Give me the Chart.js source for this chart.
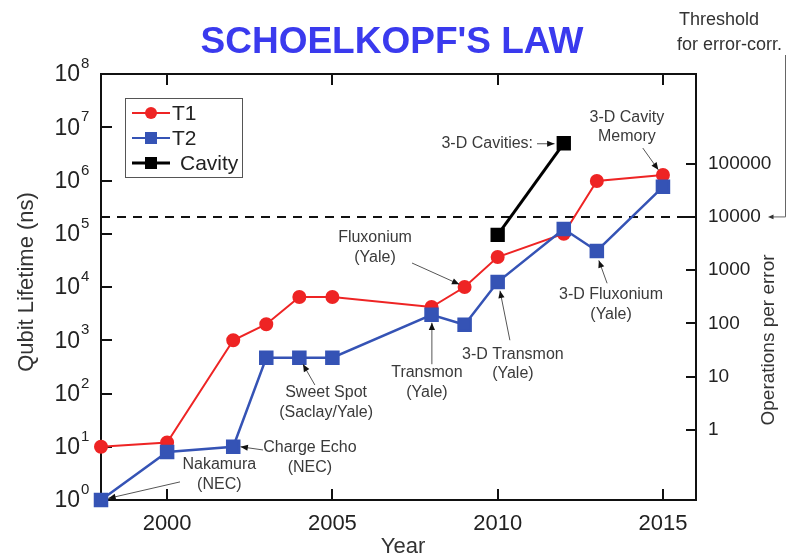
<!DOCTYPE html>
<html>
<head>
<meta charset="utf-8">
<script src="https://cdn.jsdelivr.net/npm/chart.js@4.4.0/dist/chart.umd.min.js"></script>
<style>
  html, body { margin: 0; padding: 0; background: #fff; }
</style>
</head>
<body>
<canvas id="mycanvas" width="787" height="558"></canvas>
<script>
// --- data ---
var years = [1998, 2000, 2002, 2003, 2004, 2005, 2008, 2009, 2010, 2012, 2013, 2015];
var t1_ns = [10, 12, 1000, 2000, 6500, 6500, 4200, 10000, 36500, 100000, 980000, 1270000];
var t2_ns = [1, 8, 10, 470, 470, 470, 3000, 1950, 12400, 123000, 47500, 760000];
var cavity_years = [2010, 2012];
var cavity_ns = [95000, 5000000];
var threshold_ops = 10000;           // on the right axis
var x_ticks = [2000, 2005, 2010, 2015];
var left_exps = [0, 1, 2, 3, 4, 5, 6, 7, 8];
var right_ticks = [1, 10, 100, 1000, 10000, 100000];

// annotations: text centre in (year, log10 ns), arrows tail -> head
var notes = [
  { lines: ['3-D Cavities:'], x: 2011.07, e: 6.69, align: 'right', arrow: [[2011.19, 6.69], [2011.72, 6.69]] },
  { lines: ['3-D Cavity', 'Memory'], x: 2013.91, e: 7.19, arrow: [[2014.39, 6.61], [2014.86, 6.2]] },
  { lines: ['Fluxonium', '(Yale)'], x: 2006.29, e: 4.92, arrow: [[2007.41, 4.45], [2008.84, 4.05]] },
  { lines: ['Sweet Spot', '(Saclay/Yale)'], x: 2004.81, e: 2.01, arrow: [[2004.47, 2.16], [2004.11, 2.55]] },
  { lines: ['Charge Echo', '(NEC)'], x: 2004.32, e: 0.98, arrow: [[2002.9, 0.94], [2002.22, 1.0]] },
  { lines: ['Nakamura', '(NEC)'], x: 2001.58, e: 0.66, arrow: [[2000.39, 0.34], [1998.22, 0.03]] },
  { lines: ['Transmon', '(Yale)'], x: 2007.86, e: 2.385, arrow: [[2008.01, 2.55], [2008.01, 3.33]] },
  { lines: ['3-D Transmon', '(Yale)'], x: 2010.46, e: 2.74, arrow: [[2010.37, 3.0], [2010.07, 3.93]] },
  { lines: ['3-D Fluxonium', '(Yale)'], x: 2013.43, e: 3.85, arrow: [[2013.31, 4.07], [2013.06, 4.5]] }
];

var RED = '#ee2424';
var BLUE = '#3553b5';
var FONT = '"Liberation Sans", Arial, sans-serif';

function pts(xs, ys) {
  return xs.map(function (x, i) { return { x: x, y: ys[i] }; });
}

function arrowHead(ctx, x0, y0, x1, y1, size) {
  var a = Math.atan2(y1 - y0, x1 - x0);
  ctx.beginPath();
  ctx.moveTo(x1, y1);
  ctx.lineTo(x1 - size * Math.cos(a - 0.4), y1 - size * Math.sin(a - 0.4));
  ctx.lineTo(x1 - size * Math.cos(a + 0.4), y1 - size * Math.sin(a + 0.4));
  ctx.closePath();
  ctx.fill();
}

var decor = {
  id: 'decor',
  beforeDatasetsDraw: function (chart) {
    var ctx = chart.ctx, a = chart.chartArea;
    var xs = chart.scales.x, ys = chart.scales.y, y2 = chart.scales.y2;
    ctx.save();
    ctx.strokeStyle = '#111';
    ctx.lineWidth = 2;
    ctx.strokeRect(a.left, a.top, a.right - a.left, a.bottom - a.top);
    ctx.beginPath();
    x_ticks.forEach(function (v) {
      var p = Math.round(xs.getPixelForValue(v));
      ctx.moveTo(p, a.bottom); ctx.lineTo(p, a.bottom - 11);
      ctx.moveTo(p, a.top); ctx.lineTo(p, a.top + 11);
    });
    left_exps.forEach(function (e) {
      if (e === 0 || e === 8) return;
      var p = Math.round(ys.getPixelForValue(Math.pow(10, e)));
      ctx.moveTo(a.left, p); ctx.lineTo(a.left + 11, p);
    });
    right_ticks.forEach(function (v) {
      var p = Math.round(y2.getPixelForValue(v));
      ctx.moveTo(a.right, p); ctx.lineTo(a.right - 10, p);
    });
    ctx.stroke();
    ctx.restore();
  },
  afterDraw: function (chart) {
    var ctx = chart.ctx;
    var xs = chart.scales.x, ys = chart.scales.y, y2 = chart.scales.y2;
    function X(v) { return xs.getPixelForValue(v); }
    function Y(e) { return ys.getPixelForValue(Math.pow(10, e)); }
    ctx.save();

    // title
    ctx.fillStyle = '#3a3aee';
    ctx.font = 'bold 37px ' + FONT;
    ctx.textAlign = 'center';
    ctx.textBaseline = 'middle';
    ctx.fillText("SCHOELKOPF'S LAW", 392, 43);

    // threshold note
    ctx.fillStyle = '#333';
    ctx.font = '18px ' + FONT;
    ctx.textAlign = 'left';
    ctx.fillText('Threshold', 679, 20);
    ctx.fillText('for error-corr.', 677, 45);
    var ty = y2.getPixelForValue(threshold_ops);
    ctx.strokeStyle = '#666';
    ctx.fillStyle = '#333';
    ctx.lineWidth = 1;
    ctx.beginPath();
    ctx.moveTo(785.5, 55); ctx.lineTo(785.5, ty); ctx.lineTo(772, ty);
    ctx.stroke();
    arrowHead(ctx, 785, ty, 768, ty, 6);

    // left tick labels 10^n
    ctx.fillStyle = '#222';
    left_exps.forEach(function (e) {
      var p = Y(e);
      ctx.font = '23px ' + FONT;
      ctx.textAlign = 'right';
      ctx.textBaseline = 'middle';
      ctx.fillText('10', 80, p + 1);
      ctx.font = '15px ' + FONT;
      ctx.textAlign = 'left';
      ctx.fillText(String(e), 81, p - 10);
    });

    // axis titles
    ctx.font = '22px ' + FONT;
    ctx.textAlign = 'center';
    ctx.textBaseline = 'middle';
    ctx.fillStyle = '#333';
    ctx.fillText('Year', 403, 547);
    ctx.save();
    ctx.translate(27, 282);
    ctx.rotate(-Math.PI / 2);
    ctx.fillText('Qubit Lifetime (ns)', 0, 0);
    ctx.restore();
    ctx.save();
    ctx.font = '19px ' + FONT;
    ctx.translate(769, 340);
    ctx.rotate(-Math.PI / 2);
    ctx.fillText('Operations per error', 0, 0);
    ctx.restore();

    // legend
    ctx.strokeStyle = '#555';
    ctx.lineWidth = 1;
    ctx.strokeRect(125.5, 98.5, 117, 79);
    var rows = [
      { label: 'T1', color: RED, style: 'circle', y: 113, tx: 172 },
      { label: 'T2', color: BLUE, style: 'rect', y: 138, tx: 172 },
      { label: 'Cavity', color: '#000', style: 'rect', y: 163, tx: 180 }
    ];
    rows.forEach(function (r) {
      ctx.strokeStyle = r.color;
      ctx.fillStyle = r.color;
      ctx.lineWidth = r.label === 'Cavity' ? 3 : 2;
      ctx.beginPath();
      ctx.moveTo(132, r.y); ctx.lineTo(170, r.y);
      ctx.stroke();
      if (r.style === 'circle') {
        ctx.beginPath(); ctx.arc(151, r.y, 6, 0, Math.PI * 2); ctx.fill();
      } else {
        ctx.fillRect(145, r.y - 6, 12, 12);
      }
      ctx.fillStyle = '#222';
      ctx.font = '21px ' + FONT;
      ctx.textAlign = 'left';
      ctx.textBaseline = 'middle';
      ctx.fillText(r.label, r.tx, r.y + 1);
    });

    // annotations
    ctx.font = '16px ' + FONT;
    notes.forEach(function (n) {
      ctx.fillStyle = '#3a3a3a';
      ctx.textAlign = n.align || 'center';
      ctx.textBaseline = 'middle';
      var px = X(n.x), py = Y(n.e);
      n.lines.forEach(function (s, i) { ctx.fillText(s, px, py + i * 19.5); });
      if (n.arrow) {
        var x0 = X(n.arrow[0][0]), y0 = Y(n.arrow[0][1]);
        var x1 = X(n.arrow[1][0]), y1 = Y(n.arrow[1][1]);
        ctx.strokeStyle = '#555';
        ctx.lineWidth = 1;
        ctx.beginPath(); ctx.moveTo(x0, y0); ctx.lineTo(x1, y1); ctx.stroke();
        ctx.fillStyle = '#111';
        arrowHead(ctx, x0, y0, x1, y1, 8);
      }
    });
    ctx.restore();
  }
};

var chartdata = {
  datasets: [
    {
      label: 'T1',
      data: pts(years, t1_ns),
      borderColor: RED, backgroundColor: RED,
      borderWidth: 2, pointStyle: 'circle', pointRadius: 6,
      yAxisID: 'y', order: 2, clip: false
    },
    {
      label: 'T2',
      data: pts(years, t2_ns),
      borderColor: BLUE, backgroundColor: BLUE,
      borderWidth: 2.5, pointStyle: 'rect', pointRadius: 8.5,
      yAxisID: 'y', order: 1, clip: false
    },
    {
      label: 'Cavity',
      data: pts(cavity_years, cavity_ns),
      borderColor: '#000', backgroundColor: '#000',
      borderWidth: 3, pointStyle: 'rect', pointRadius: 8,
      yAxisID: 'y', order: 0, clip: false
    },
    {
      label: 'Threshold',
      data: [{ x: 1998, y: threshold_ops }, { x: 2016, y: threshold_ops }],
      borderColor: '#111', borderWidth: 2, borderDash: [9, 7],
      pointRadius: 0, yAxisID: 'y2', order: 5
    }
  ]
};

var ctx = document.getElementById('mycanvas');
var chart = new Chart(ctx, {
  type: 'line',
  data: chartdata,
  plugins: [decor],
  options: {
    responsive: false,
    animation: false,
    layout: { padding: { top: 74, left: 0, right: 0, bottom: 0 } },
    plugins: { legend: { display: false }, title: { display: false }, tooltip: { enabled: false } },
    elements: { line: { tension: 0 } },
    scales: {
      x: {
        type: 'linear', min: 1998, max: 2016,
        grid: { display: false, drawTicks: false },
        border: { display: false },
        afterBuildTicks: function (s) { s.ticks = x_ticks.map(function (v) { return { value: v }; }); },
        afterFit: function (s) { s.height = 58; },
        ticks: {
          padding: 11, color: '#222',
          font: { family: FONT, size: 22 },
          callback: function (v) { return String(v); }
        }
      },
      y: {
        type: 'logarithmic', position: 'left', min: 1, max: 1e8,
        grid: { display: false, drawTicks: false },
        border: { display: false },
        ticks: { display: false },
        afterFit: function (s) { s.width = 101; }
      },
      y2: {
        type: 'logarithmic', position: 'right',
        min: Math.pow(10, -1.316), max: Math.pow(10, 6.684),
        grid: { display: false, drawTicks: false },
        border: { display: false },
        afterBuildTicks: function (s) { s.ticks = right_ticks.map(function (v) { return { value: v }; }); },
        afterFit: function (s) { s.width = 91; },
        ticks: {
          padding: 12, color: '#222',
          font: { family: FONT, size: 19 },
          callback: function (v) { return String(v); }
        }
      }
    }
  }
});
</script>
</body>
</html>
